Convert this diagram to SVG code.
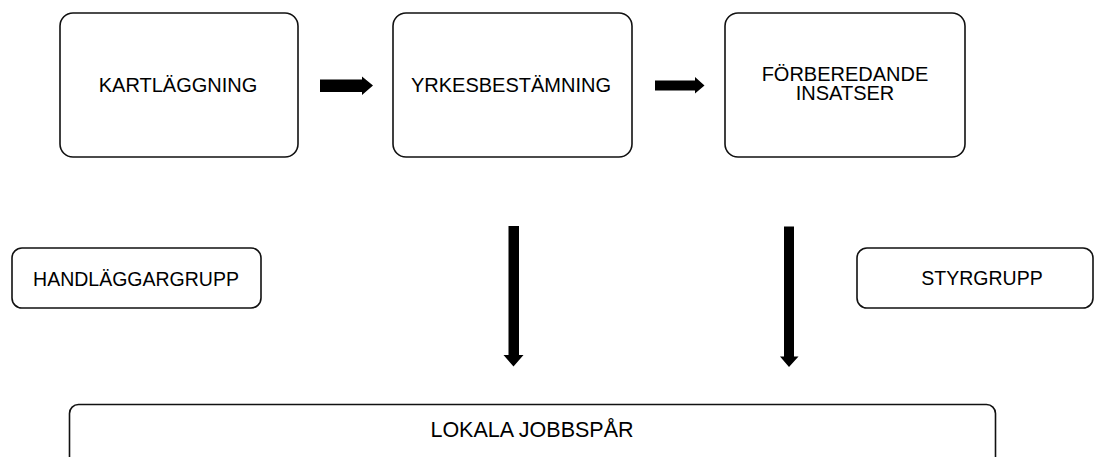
<svg xmlns="http://www.w3.org/2000/svg" width="1096" height="457" viewBox="0 0 1096 457">
<style>
.box{fill:#fff;stroke:#111;stroke-width:1.6}
.t{font-family:"Liberation Sans",Arial,sans-serif;fill:#000;text-anchor:middle}
.big{font-size:20px}
.mid{font-size:19.5px}
.low{font-size:21.5px}
.arr{fill:#000}
</style>
<rect width="1096" height="457" fill="#fff"/>
<g id="kartlaggning">
<rect class="box" x="60" y="13" width="238" height="144" rx="13"/>
<text class="t big" x="178" y="92">KARTLÄGGNING</text>
</g>
<g id="yrkesbestamning">
<rect class="box" x="393" y="13" width="239" height="144" rx="13"/>
<text class="t big" x="511" y="92">YRKESBESTÄMNING</text>
</g>
<g id="forberedande">
<rect class="box" x="725" y="13" width="240" height="144" rx="13"/>
<text class="t big" x="845" y="81"><tspan x="845">FÖRBEREDANDE</tspan><tspan x="845" dy="19">INSATSER</tspan></text>
</g>
<g id="handlaggargrupp">
<rect class="box" x="12" y="248" width="249" height="60" rx="10"/>
<text class="t mid" x="136" y="286">HANDLÄGGARGRUPP</text>
</g>
<g id="styrgrupp">
<rect class="box" x="857" y="248" width="236" height="60" rx="10"/>
<text class="t mid" x="982" y="285">STYRGRUPP</text>
</g>
<g id="lokala">
<rect class="box" x="69.5" y="404.5" width="926" height="70" rx="9"/>
<text class="t low" x="532" y="437">LOKALA JOBBSPÅR</text>
</g>
<g id="connectors">
<polygon class="arr" points="320,79.5 362,79.5 362,76.5 373,85.5 362,95 362,92 320,92"/>
<polygon class="arr" points="655,80.5 695,80.5 695,77 704.5,85.5 695,93.5 695,90.5 655,90.5"/>
<polygon class="arr" points="508.5,226 519,226 519,355 523.5,355 513.5,366.5 503.5,355 508.5,355"/>
<polygon class="arr" points="784,226.5 794,226.5 794,356.5 798.5,356.5 789,367 780,356.5 784,356.5"/>
</g>
</svg>
